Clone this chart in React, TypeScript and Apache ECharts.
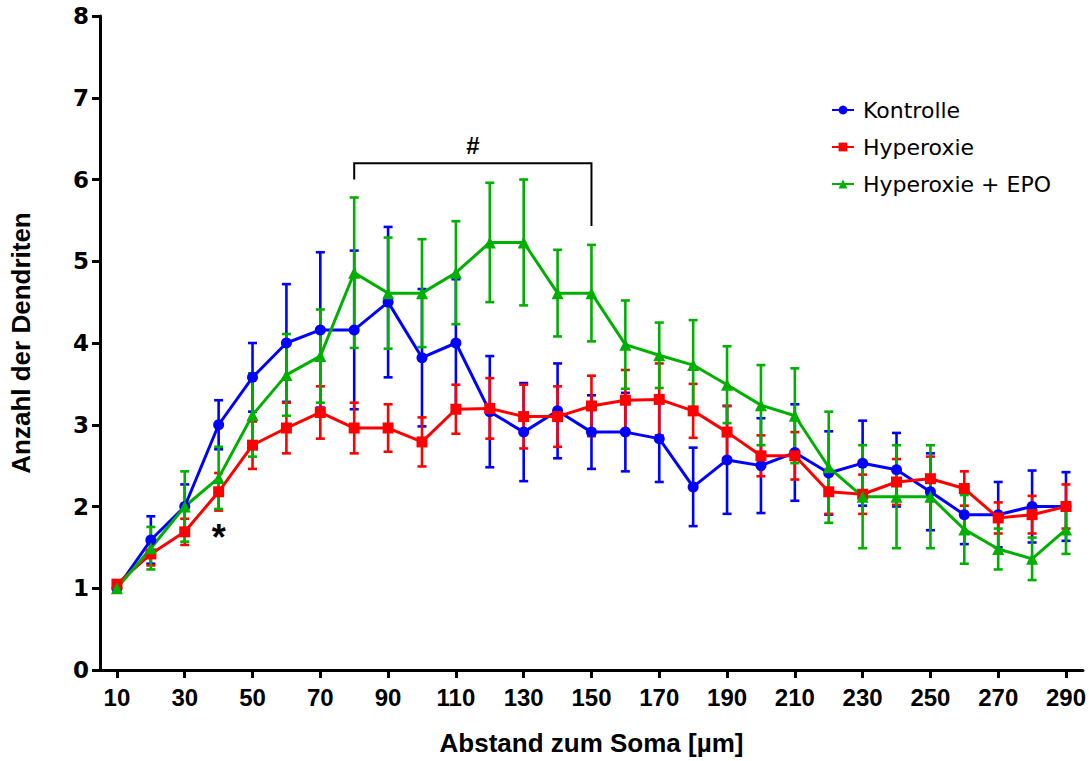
import React, { useEffect, useRef } from "react";
import * as echarts from "echarts";

const distances = ["10","20","30","40","50","60","70","80","90","100","110","120","130","140","150","160","170","180","190","200","210","220","230","240","250","260","270","280","290"];

const kontrolle = [1.0,1.59,2.0,3.0,3.58,4.0,4.16,4.16,4.5,3.82,4.0,3.16,2.91,3.17,2.91,2.91,2.83,2.24,2.57,2.5,2.66,2.41,2.53,2.45,2.18,1.9,1.9,2.0,2.0];
const kontrolleErr = [0,0.29,0.27,0.3,0.42,0.72,0.95,0.97,0.92,0.84,0.78,0.68,0.6,0.58,0.45,0.48,0.53,0.48,0.66,0.58,0.59,0.51,0.52,0.45,0.47,0.36,0.4,0.44,0.42];

const hyperoxie = [1.05,1.42,1.69,2.18,2.75,2.96,3.15,2.96,2.96,2.79,3.19,3.2,3.1,3.1,3.23,3.3,3.31,3.17,2.91,2.62,2.62,2.18,2.15,2.3,2.34,2.22,1.86,1.9,2.0];
const hyperoxieErr = [0,0.14,0.16,0.23,0.29,0.31,0.32,0.31,0.29,0.3,0.3,0.37,0.39,0.37,0.37,0.37,0.44,0.33,0.32,0.25,0.29,0.27,0.24,0.28,0.27,0.21,0.19,0.23,0.27];

const hyperoxieEpo = [1.0,1.49,2.0,2.35,3.12,3.61,3.84,4.86,4.61,4.61,4.86,5.23,5.23,4.61,4.61,3.98,3.85,3.73,3.49,3.24,3.11,2.48,2.12,2.12,2.12,1.72,1.48,1.36,1.72];
const hyperoxieEpoErr = [0,0.26,0.43,0.38,0.51,0.5,0.57,0.92,0.68,0.66,0.63,0.73,0.77,0.53,0.59,0.54,0.4,0.55,0.47,0.49,0.58,0.68,0.63,0.63,0.63,0.42,0.25,0.26,0.3];

const yTicks = [0, 1, 2, 3, 4, 5, 6, 7, 8];

// significance annotations (in data units)
const bracketStart = "80";
const bracketEnd = "150";
const bracketLevel = 6.2;
const bracketLeftEnd = 6.0;
const bracketRightEnd = 5.43;
const bracketMarkLevel = 6.42;
const starAt = "40";
const starLevel = 1.62;

const BLUE = "#0000ff";
const RED = "#ff0000";
const GREEN = "#00b000";

function errorSeries(name: string, vals: number[], errs: number[], color: string) {
  return {
    type: "custom",
    name: name + " SEM",
    silent: true,
    data: vals.map((v, i) => [i, v, errs[i]]),
    encode: { x: 0, y: 1 },
    renderItem: (params: any, api: any) => {
      const x = api.value(0);
      const y = api.value(1);
      const e = api.value(2);
      if (!e) return null;
      const top = api.coord([x, y + e]);
      const bot = api.coord([x, y - e]);
      const hw = 4.5;
      const style = { stroke: color, lineWidth: 2.6 };
      return {
        type: "group",
        children: [
          { type: "line", shape: { x1: top[0], y1: top[1], x2: bot[0], y2: bot[1] }, style },
          { type: "line", shape: { x1: top[0] - hw, y1: top[1], x2: top[0] + hw, y2: top[1] }, style },
          { type: "line", shape: { x1: bot[0] - hw, y1: bot[1], x2: bot[0] + hw, y2: bot[1] }, style },
        ],
      };
    },
  };
}

function lineSeries(name: string, vals: number[], color: string, symbol: string, size: number) {
  return {
    type: "line",
    name,
    data: vals,
    symbol,
    symbolSize: size,
    showAllSymbol: true,
    lineStyle: { color, width: 3 },
    itemStyle: { color, borderWidth: 0 },
  };
}

export default function App() {
  const ref = useRef<HTMLDivElement>(null);
  useEffect(() => {
    if (!ref.current) return;
    const chart = echarts.init(ref.current, null, { renderer: "svg" });
    const sIdx = distances.indexOf(bracketStart);
    const eIdx = distances.indexOf(bracketEnd);
    const starIdx = distances.indexOf(starAt);
    const option: any = {
      animation: false,
      backgroundColor: "#ffffff",
      grid: { left: 99, right: 6, top: 16, bottom: 91, containLabel: false },
      legend: {
        orient: "vertical",
        left: 826,
        top: 94,
        itemWidth: 22,
        itemHeight: 11,
        itemGap: 15,
        data: ["Kontrolle", "Hyperoxie", "Hyperoxie + EPO"],
        textStyle: { fontFamily: "DejaVu Sans", fontSize: 22, color: "#000", padding: [0, 0, 0, 4] },
      },
      xAxis: {
        type: "category",
        data: distances,
        boundaryGap: true,
        name: "Abstand zum Soma [µm]",
        nameLocation: "middle",
        nameGap: 60,
        nameTextStyle: { fontFamily: "Liberation Sans", fontWeight: "bold", fontSize: 26, color: "#000" },
        axisLine: { show: true, lineStyle: { color: "#000", width: 3 } },
        axisTick: { show: true, interval: 1, alignWithLabel: true, length: 8, lineStyle: { color: "#000", width: 3 } },
        axisLabel: { interval: 1, margin: 15, fontFamily: "Liberation Sans", fontWeight: "bold", fontSize: 24, color: "#000" },
        splitLine: { show: false },
      },
      yAxis: {
        type: "value",
        min: yTicks[0],
        max: yTicks[yTicks.length - 1],
        interval: 1,
        name: "Anzahl der Dendriten",
        nameLocation: "middle",
        nameGap: 66,
        nameRotate: 90,
        nameTextStyle: { fontFamily: "Liberation Sans", fontWeight: "bold", fontSize: 26, color: "#000" },
        axisLine: { show: true, lineStyle: { color: "#000", width: 3 } },
        axisTick: { show: true, length: 8, lineStyle: { color: "#000", width: 3 } },
        axisLabel: { margin: 11, fontFamily: "DejaVu Sans", fontWeight: "bold", fontSize: 23, color: "#000" },
        splitLine: { show: false },
      },
      series: [
        errorSeries("Kontrolle", kontrolle, kontrolleErr, BLUE),
        lineSeries("Kontrolle", kontrolle, BLUE, "circle", 11),
        errorSeries("Hyperoxie", hyperoxie, hyperoxieErr, RED),
        lineSeries("Hyperoxie", hyperoxie, RED, "rect", 11),
        errorSeries("Hyperoxie + EPO", hyperoxieEpo, hyperoxieEpoErr, GREEN),
        lineSeries("Hyperoxie + EPO", hyperoxieEpo, GREEN, "triangle", 12),
        {
          type: "custom",
          name: "bracket",
          silent: true,
          data: [[sIdx, eIdx, bracketLevel, bracketLeftEnd, bracketRightEnd, bracketMarkLevel]],
          encode: { x: [0, 1], y: [2, 3, 4] },
          renderItem: (params: any, api: any) => {
            const a = api.coord([api.value(0), api.value(3)]);
            const b = api.coord([api.value(0), api.value(2)]);
            const c = api.coord([api.value(1), api.value(2)]);
            const d = api.coord([api.value(1), api.value(4)]);
            const m = api.coord([api.value(0), api.value(5)]);
            return {
              type: "group",
              children: [
                {
                  type: "polyline",
                  shape: { points: [a, b, c, d] },
                  style: { stroke: "#000", lineWidth: 2, fill: "none" },
                },
                {
                  type: "text",
                  x: (b[0] + c[0]) / 2,
                  y: m[1],
                  style: {
                    text: "#",
                    fontFamily: "Liberation Sans",
                    fontWeight: "bold",
                    fontSize: 24,
                    fill: "#000",
                    align: "center",
                    verticalAlign: "middle",
                  },
                },
              ],
            };
          },
        },
        {
          type: "custom",
          name: "star",
          silent: true,
          data: [[starIdx, starLevel]],
          encode: { x: 0, y: 1 },
          renderItem: (params: any, api: any) => {
            const p = api.coord([api.value(0), api.value(1)]);
            return {
              type: "text",
              x: p[0],
              y: p[1],
              style: {
                text: "*",
                fontFamily: "Liberation Sans",
                fontWeight: "bold",
                fontSize: 36,
                fill: "#000",
                align: "center",
                verticalAlign: "middle",
              },
            };
          },
        },
      ],
    };
    chart.setOption(option);
    return () => chart.dispose();
  }, []);
  return (
    <div
      ref={ref}
      style={{ position: "fixed", left: 0, top: 0, width: 1089, height: 761, background: "#fff" }}
    />
  );
}
